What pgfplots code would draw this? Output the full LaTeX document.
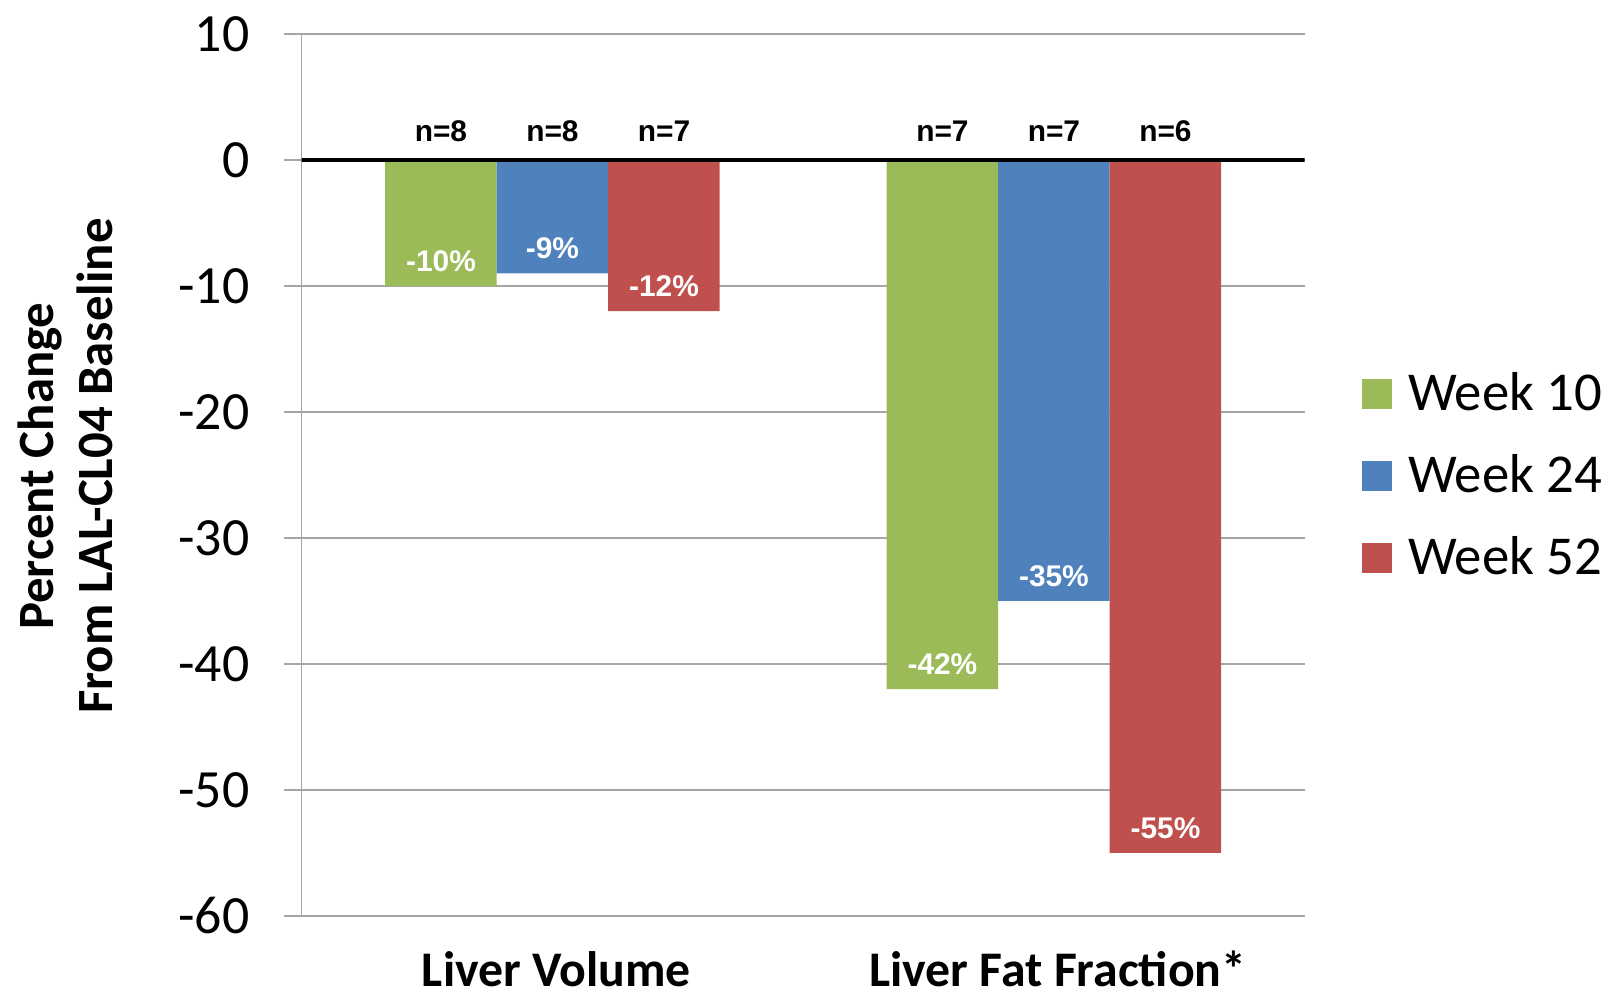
\documentclass[border=0pt]{standalone}
\usepackage{pgfplots}
\usepackage{pgfplotstable}
\pgfplotsset{compat=1.18}
\usepackage{fontspec}
\setmainfont{Carlito}
\newfontfamily\arialfont{Liberation Sans}

\definecolor{wkgreen}{HTML}{9BBB59}
\definecolor{wkblue}{HTML}{4F81BD}
\definecolor{wkred}{HTML}{C0504D}
\definecolor{gridgray}{HTML}{A6A6A6}

% x: 0 = Liver Volume, 1 = Liver Fat Fraction*; y: percent change; n: patients
\pgfplotstableread{
x y n
0 -10 8
1 -42 7
}\weekten
\pgfplotstableread{
x y n
0 -9 8
1 -35 7
}\weektwentyfour
\pgfplotstableread{
x y n
0 -12 7
1 -55 6
}\weekfiftytwo

\def\bw{111.5bp}

\begin{document}
\begin{tikzpicture}
\path[use as bounding box] (0,0) rectangle (1608bp,993bp);
\begin{axis}[
  at={(301.7bp,77bp)}, anchor=south west,
  scale only axis, width=1003bp, height=882bp,
  xmin=-0.5, xmax=1.5, ymin=-60, ymax=10,
  ytick={-60,-50,...,10},
  xtick={0,1}, xticklabels={Liver Volume, Liver Fat Fraction*},
  axis x line*=bottom, axis y line*=left,
  x axis line style={draw=none},
  y axis line style={gridgray, line width=1.5bp},
  ymajorgrids, grid style={gridgray, line width=1.5bp},
  tick align=outside, major tick length=18bp,
  xtick style={draw=none},
  ytick style={gridgray, line width=1.5bp},
  /pgf/number format/assume math mode=true,
  yticklabel style={font=\fontsize{54}{54}\selectfont, anchor=east, inner sep=0pt, xshift=-34bp},
  xticklabel style={font=\bfseries\fontsize{50}{50}\selectfont, anchor=base, inner sep=0pt,
    text depth=0pt, xshift=4bp, yshift=-52bp},
  ylabel={Percent Change\\From LAL-CL04 Baseline},
  every axis y label/.style={at={(axis description cs:-0.2355,0.510)}, rotate=90, anchor=center,
    align=center, font=\bfseries\fontsize{51}{59}\selectfont},
  legend style={at={(axis description cs:1.057,0.502)}, anchor=west, draw=none, fill=none,
    inner sep=0pt, row sep=43.8bp, column sep=16bp,
    font=\fontsize{55}{55}\selectfont,
    nodes={inner sep=0pt, text height=38bp, text depth=0bp}},
  legend cell align=left,
  legend image code/.code={\fill[#1] (0bp,-18bp) rectangle (30bp,12bp);},
  value labels/.style={
    nodes near coords={\pgfmathprintnumber{\pgfplotspointmeta}\%},
    point meta=y,
    every node near coord/.append style={anchor=center, xshift=#1, yshift=25bp, text=white,
      font=\arialfont\bfseries\fontsize{30}{30}\selectfont}},
  count labels/.style={
    draw=none, forget plot,
    nodes near coords={n=\pgfplotspointmeta},
    point meta=explicit symbolic,
    every node near coord/.append style={anchor=center, xshift=#1, yshift=29bp, text=black,
      font=\arialfont\bfseries\fontsize{30}{30}\selectfont}},
]
\addplot[ybar, bar width=\bw, bar shift=-\bw, fill=wkgreen, draw=none]
  table[x=x, y=y] {\weekten};
\addlegendentry{Week 10}
\addplot[ybar, bar width=\bw, bar shift=0bp, fill=wkblue, draw=none]
  table[x=x, y=y] {\weektwentyfour};
\addlegendentry{Week 24}
\addplot[ybar, bar width=\bw, bar shift=\bw, fill=wkred, draw=none]
  table[x=x, y=y] {\weekfiftytwo};
\addlegendentry{Week 52}

% percent labels inside the bars, drawn after all bars
\addplot[draw=none, forget plot, value labels=-\bw] table[x=x, y=y] {\weekten};
\addplot[draw=none, forget plot, value labels=0bp] table[x=x, y=y] {\weektwentyfour};
\addplot[draw=none, forget plot, value labels=\bw] table[x=x, y=y] {\weekfiftytwo};

% sample sizes above the zero line
\addplot[count labels=-\bw] table[x=x, y expr=0, meta=n] {\weekten};
\addplot[count labels=0bp] table[x=x, y expr=0, meta=n] {\weektwentyfour};
\addplot[count labels=\bw] table[x=x, y expr=0, meta=n] {\weekfiftytwo};

% baseline at zero
\draw[black, line width=4bp] ([xshift=-7bp]axis cs:-0.5,0) -- (axis cs:1.5,0);
\end{axis}
\end{tikzpicture}
\end{document}
